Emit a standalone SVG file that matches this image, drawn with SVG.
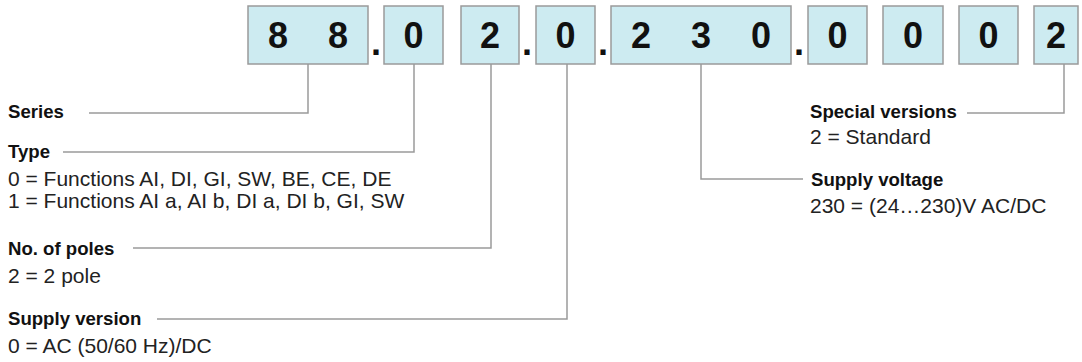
<svg xmlns="http://www.w3.org/2000/svg" width="1082" height="362" viewBox="0 0 1082 362">
<style>
.box{fill:#cdebf1;stroke:#9a9a9a;stroke-width:1.5}
.dig{font-family:"Liberation Sans",Arial,sans-serif;font-weight:bold;font-size:36px;fill:#111;text-anchor:middle}
.dot{font-family:"Liberation Sans",Arial,sans-serif;font-weight:bold;font-size:36px;fill:#111;text-anchor:middle}
.hd{font-family:"Liberation Sans",Arial,sans-serif;font-weight:bold;font-size:18.6px;fill:#111}
.tx{font-family:"Liberation Sans",Arial,sans-serif;font-size:21px;fill:#222}
.ln{fill:none;stroke:#9a9a9a;stroke-width:1.5}
</style>
<rect width="1082" height="362" fill="#fff"/>
<g id="code">
<g id="box-series"><rect class="box" x="248" y="6" width="120" height="58"/><text class="dig" x="278" y="48">8</text><text class="dig" x="338" y="48">8</text></g>
<text class="dot" x="376" y="55">.</text>
<g id="box-type"><rect class="box" x="384" y="6" width="59" height="58"/><text class="dig" x="413.5" y="48">0</text></g>
<g id="box-poles"><rect class="box" x="461" y="6" width="58" height="58"/><text class="dig" x="490" y="48">2</text></g>
<text class="dot" x="527" y="55">.</text>
<g id="box-supplyversion"><rect class="box" x="536" y="6" width="59" height="58"/><text class="dig" x="565.5" y="48">0</text></g>
<text class="dot" x="603" y="55">.</text>
<g id="box-voltage"><rect class="box" x="611" y="6" width="180" height="58"/><text class="dig" x="641" y="48">2</text><text class="dig" x="701" y="48">3</text><text class="dig" x="761" y="48">0</text></g>
<text class="dot" x="799" y="55">.</text>
<g id="box-a"><rect class="box" x="808" y="6" width="59" height="58"/><text class="dig" x="837.5" y="48">0</text></g>
<g id="box-b"><rect class="box" x="883" y="6" width="60" height="58"/><text class="dig" x="913" y="48">0</text></g>
<g id="box-c"><rect class="box" x="959" y="6" width="59" height="58"/><text class="dig" x="988.5" y="48">0</text></g>
<g id="box-special"><rect class="box" x="1034" y="6" width="44" height="58"/><text class="dig" x="1056" y="48">2</text></g>
</g>
<g id="connectors">
<path class="ln" d="M89 113H308V64"/>
<path class="ln" d="M63 152H414V64"/>
<path class="ln" d="M133 248H491V64"/>
<path class="ln" d="M157 319H567V64"/>
<path class="ln" d="M967 113H1064V64"/>
<path class="ln" d="M803 179H701V64"/>
</g>
<g id="label-series"><text class="hd" x="8" y="118">Series</text></g>
<g id="label-type"><text class="hd" x="8" y="158">Type</text>
<text class="tx" x="8" y="186">0 = Functions AI, DI, GI, SW, BE, CE, DE</text>
<text class="tx" x="8" y="208">1 = Functions AI a, AI b, DI a, DI b, GI, SW</text></g>
<g id="label-poles"><text class="hd" x="8" y="255">No. of poles</text>
<text class="tx" x="8" y="283">2 = 2 pole</text></g>
<g id="label-supplyversion"><text class="hd" x="8" y="325">Supply version</text>
<text class="tx" x="8" y="353">0 = AC (50/60 Hz)/DC</text></g>
<g id="label-special"><text class="hd" x="810" y="118">Special versions</text>
<text class="tx" x="810" y="144">2 = Standard</text></g>
<g id="label-voltage"><text class="hd" x="811" y="186">Supply voltage</text>
<text class="tx" x="810" y="213">230 = (24…230)V AC/DC</text></g>
</svg>
